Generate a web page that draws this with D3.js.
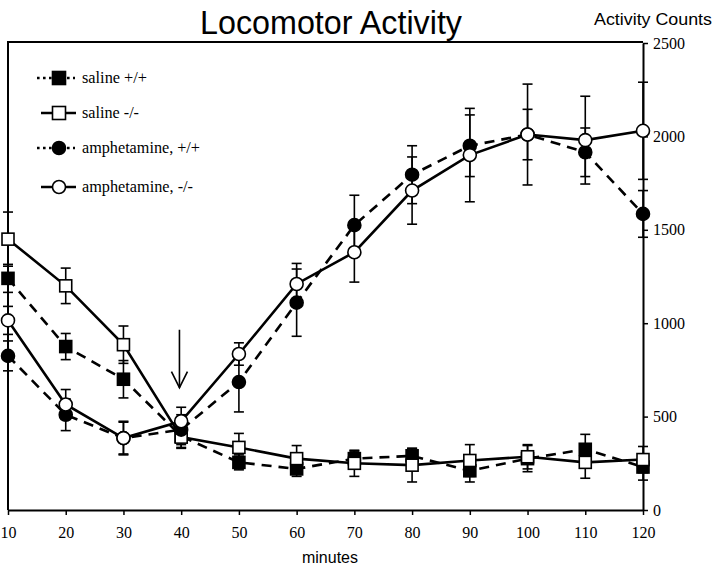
<!DOCTYPE html>
<html><head><meta charset="utf-8">
<script src="https://cdn.jsdelivr.net/npm/d3@7/dist/d3.min.js"></script>
<style>
html,body{margin:0;padding:0;background:#fff;}
svg{display:block;}
</style>
</head><body>
<svg id="chart" width="720" height="568"></svg>
<script>
const minutes = [10,20,30,40,50,60,70,80,90,100,110,120];
const salineWT = [1240,875,700,395,255,220,275,290,210,275,325,230];
const salineWTErr = [75,70,100,60,40,40,40,40,60,70,80,70];
const salineKO = [1450,1200,885,390,335,275,250,240,265,285,255,270];
const salineKOErr = [145,95,100,60,75,70,70,90,85,65,85,70];
const amphWT = [825,510,385,430,685,1110,1525,1795,1950,2010,1915,1585];
const amphWTErr = [80,85,85,80,160,180,160,155,165,135,130,125];
const amphKO = [1015,565,385,475,835,1210,1380,1710,1900,2010,1980,2030];
const amphKOErr = [75,80,90,75,60,110,160,180,250,270,235,260];
const yTicks = [0,500,1000,1500,2000,2500];
const legendLabels = ["saline +/+","saline -/-","amphetamine, +/+","amphetamine, -/-"];
const arrowAt = {x:39.7, from:965, to:655};

const svg = d3.select("#chart");
const x = d3.scaleLinear().domain([10,120]).range([8,643]);
const y = d3.scaleLinear().domain([0,2500]).range([510,43]);

const series = [
  {vals:salineWT, err:salineWTErr, shape:"square", fill:"#000", dash:"10,7"},
  {vals:salineKO, err:salineKOErr, shape:"square", fill:"#fff", dash:null},
  {vals:amphWT, err:amphWTErr, shape:"circle", fill:"#000", dash:"10,7"},
  {vals:amphKO, err:amphKOErr, shape:"circle", fill:"#fff", dash:null}
];

// frame
svg.append("line").attr("x1",x(10)).attr("x2",x(120)).attr("y1",y(2500)-1).attr("y2",y(2500)-1)
  .attr("stroke","#000").attr("stroke-width",2);
svg.append("line").attr("x1",x(10)).attr("x2",x(10)).attr("y1",y(2500)-2).attr("y2",y(0))
  .attr("stroke","#000").attr("stroke-width",2);

// axes
const xAxis = svg.append("g").attr("transform",`translate(0,${y(0)})`)
  .call(d3.axisBottom(x).tickValues(minutes).tickSize(5).tickPadding(12).tickSizeOuter(0).tickFormat(d3.format("d")));
const yAxis = svg.append("g").attr("transform",`translate(${x(120)},0)`)
  .call(d3.axisRight(y).tickValues(yTicks).tickSize(5).tickPadding(5).tickSizeOuter(0).tickFormat(d3.format("d")));
[xAxis,yAxis].forEach(g=>{
  g.select(".domain").attr("stroke","#000").attr("stroke-width",2);
  g.selectAll(".tick line").attr("stroke","#000").attr("stroke-width",1.5);
  g.selectAll("text").attr("font-family","'Liberation Serif','Times New Roman',serif")
    .attr("font-size",16).attr("fill","#000");
});

// lines
const line = d3.line().x((d,i)=>x(minutes[i])).y(d=>y(d));
series.forEach(s=>{
  svg.append("path").attr("d",line(s.vals)).attr("fill","none").attr("stroke","#000")
    .attr("stroke-width",2.6).attr("stroke-dasharray",s.dash);
});

// error bars
series.forEach(s=>{
  const g = svg.append("g");
  s.vals.forEach((v,i)=>{
    const cx = x(minutes[i]);
    const y1 = y(v + s.err[i]), y2 = y(v - s.err[i]);
    g.append("line").attr("x1",cx).attr("x2",cx).attr("y1",y1).attr("y2",y2)
      .attr("stroke","#000").attr("stroke-width",1.6);
    [y1,y2].forEach(yy=>g.append("line").attr("x1",cx-5).attr("x2",cx+5).attr("y1",yy).attr("y2",yy)
      .attr("stroke","#000").attr("stroke-width",1.6));
  });
});

// markers
function marker(g, shape, fill, cx, cy, size){
  if(shape==="square"){
    g.append("rect").attr("x",cx-size/2).attr("y",cy-size/2).attr("width",size).attr("height",size)
      .attr("fill",fill).attr("stroke","#000").attr("stroke-width",1.6);
  } else {
    g.append("circle").attr("cx",cx).attr("cy",cy).attr("r",size/2)
      .attr("fill",fill).attr("stroke","#000").attr("stroke-width",1.6);
  }
}
series.forEach(s=>{
  const g = svg.append("g");
  s.vals.forEach((v,i)=>marker(g,s.shape,s.fill,x(minutes[i]),y(v),s.shape==="square"?12:13));
});

// arrow annotation
const ax = x(arrowAt.x);
svg.append("line").attr("x1",ax).attr("x2",ax).attr("y1",y(arrowAt.from)).attr("y2",y(arrowAt.to))
  .attr("stroke","#000").attr("stroke-width",1.6);
svg.append("path").attr("d",`M${ax-8},${y(arrowAt.to)-16}L${ax},${y(arrowAt.to)}L${ax+8},${y(arrowAt.to)-16}`)
  .attr("fill","none").attr("stroke","#000").attr("stroke-width",1.6);

// legend
const legY = [78,113,148,187];
const legW = [65,57,118,111];
const leg = svg.append("g");
series.forEach((s,i)=>{
  const yy = legY[i];
  if(s.dash){
    leg.append("line").attr("x1",37).attr("x2",75).attr("y1",yy).attr("y2",yy)
      .attr("stroke","#000").attr("stroke-width",2.6).attr("stroke-dasharray","2.6,3.4");
  } else {
    leg.append("line").attr("x1",41).attr("x2",76).attr("y1",yy).attr("y2",yy)
      .attr("stroke","#000").attr("stroke-width",2.4);
  }
  marker(leg,s.shape,s.fill,59,yy,13);
  leg.append("text").attr("x",82).attr("y",yy+5).text(legendLabels[i])
    .attr("font-family","'Liberation Serif','Times New Roman',serif").attr("font-size",16)
    .attr("textLength",legW[i]).attr("lengthAdjust","spacingAndGlyphs").attr("fill","#000");
});

// titles
svg.append("text").attr("x",331).attr("y",34).attr("text-anchor","middle")
  .attr("font-family","'Liberation Sans',Arial,sans-serif").attr("font-size",33)
  .attr("textLength",262).attr("lengthAdjust","spacingAndGlyphs").text("Locomotor Activity");
svg.append("text").attr("x",653).attr("y",25).attr("text-anchor","middle")
  .attr("font-family","'Liberation Sans',Arial,sans-serif").attr("font-size",17)
  .attr("textLength",118).attr("lengthAdjust","spacingAndGlyphs").text("Activity Counts");
svg.append("text").attr("x",330).attr("y",563).attr("text-anchor","middle")
  .attr("font-family","'Liberation Sans',Arial,sans-serif").attr("font-size",16)
  .attr("textLength",56).attr("lengthAdjust","spacingAndGlyphs").text("minutes");
</script>
</body></html>
